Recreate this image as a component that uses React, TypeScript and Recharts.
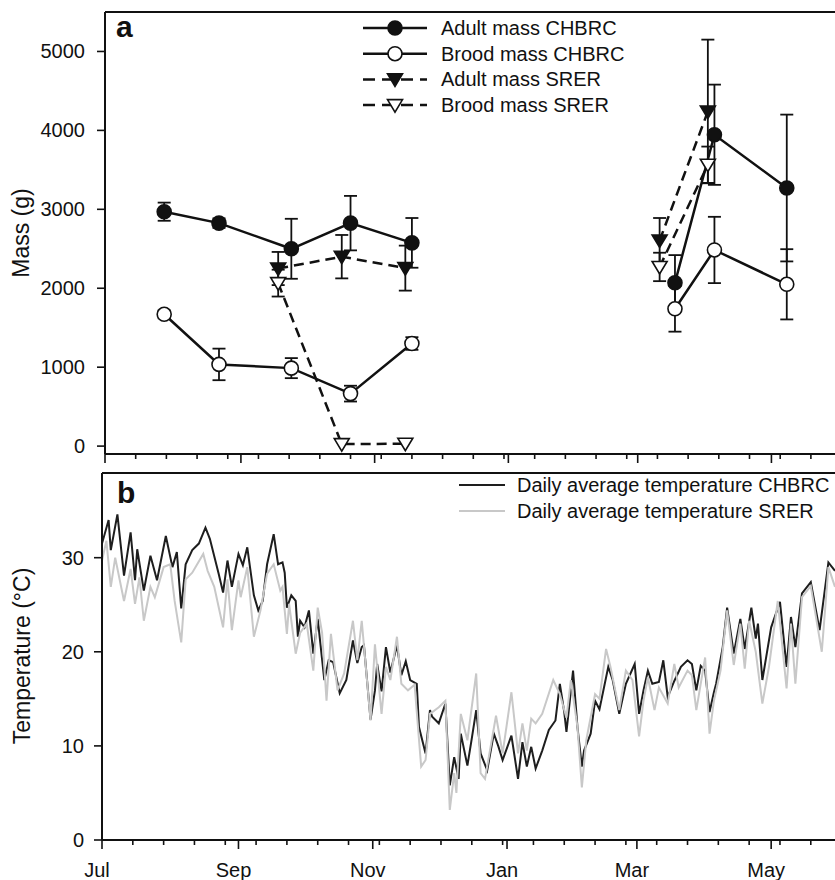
import React from 'react';
import { ComposedChart, Line, XAxis, YAxis, ErrorBar, ReferenceLine } from 'recharts';

// panel a: mass sampling dates (days since 1 Jul), means and error
const chbrcDays = [27, 52, 85, 112, 140, 260, 278, 311];
const adultChbrc = [2970, 2825, 2500, 2825, 2575, 2070, 3945, 3270];
const adultChbrcErr = [115, 60, 380, 345, 315, 350, 635, 930];
const broodChbrc = [1670, 1035, 988, 665, 1300, 1740, 2485, 2050];
const broodChbrcErr = [50, 200, 127, 100, 80, 290, 420, 445];
const srerDays = [79, 108, 137, 253, 275];
const adultSrer = [2250, 2400, 2255, 2605, 4240];
const adultSrerErr = [210, 275, 285, 285, 910];
const broodSrer = [2065, 25, 30, 2270, 3565];
const broodSrerErr = [170, 0, 0, 180, 230];
// winter gap: the lines break after these indices
const chbrcBreak = 5;
const srerBreak = 3;

// panel b: daily average temperature
const chbrcTempDays = [0, 3, 4, 7, 10, 13, 15, 16, 19, 22, 25, 29, 32, 34, 36, 38, 41, 44, 47, 49, 53, 55, 57, 59, 62, 64, 66, 69, 71, 73, 75, 78, 80, 82, 83, 84, 86, 88, 89, 90, 92, 94, 96, 98, 101, 103, 105, 108, 111, 114, 116, 118, 119, 122, 124, 125, 127, 129, 131, 134, 136, 138, 140, 143, 144, 147, 149, 150, 153, 156, 158, 160, 162, 163, 166, 168, 170, 172, 175, 178, 180, 182, 186, 189, 191, 193, 195, 197, 200, 203, 206, 208, 210, 211, 214, 216, 218, 219, 222, 224, 226, 230, 232, 235, 238, 242, 244, 246, 248, 250, 253, 255, 257, 260, 263, 266, 268, 270, 272, 274, 276, 278, 279, 282, 284, 287, 290, 292, 295, 297, 298, 300, 302, 304, 308, 311, 313, 315, 318, 322, 326, 330, 333];
const chbrcTemp = [31.5, 34.0, 30.8, 34.6, 28.1, 32.7, 27.6, 30.9, 26.5, 30.2, 27.6, 32.3, 29.0, 30.6, 24.6, 29.3, 30.8, 31.5, 33.2, 32.0, 28.3, 26.3, 29.7, 26.9, 30.4, 29.2, 31.1, 26.0, 24.4, 25.4, 29.3, 32.5, 29.3, 29.5, 28.4, 24.7, 26.0, 25.4, 21.6, 23.3, 22.6, 24.4, 19.8, 23.5, 17.0, 19.1, 18.9, 15.6, 17.0, 21.2, 18.8, 20.5, 20.7, 12.8, 15.9, 18.7, 15.8, 20.5, 17.8, 20.7, 17.5, 19.0, 17.0, 16.6, 12.0, 9.2, 13.8, 13.1, 12.4, 14.5, 5.8, 8.8, 6.5, 11.3, 7.9, 10.8, 13.8, 9.2, 7.4, 11.3, 10.0, 8.5, 11.1, 6.5, 10.4, 7.8, 9.9, 7.6, 9.5, 11.7, 12.7, 16.6, 13.6, 11.5, 18.0, 12.0, 7.8, 9.5, 11.3, 14.8, 13.9, 18.4, 17.0, 13.4, 16.6, 18.7, 13.4, 15.9, 18.0, 16.6, 16.8, 19.1, 15.2, 16.9, 18.4, 19.1, 18.7, 15.9, 18.5, 18.0, 13.6, 15.7, 16.6, 20.5, 24.7, 19.8, 23.5, 20.3, 24.7, 21.4, 23.0, 17.0, 19.8, 22.6, 25.3, 18.4, 23.7, 20.5, 26.2, 27.4, 22.3, 29.5, 28.6];
const srerTempDays = [0, 2, 4, 6, 10, 13, 15, 17, 19, 22, 24, 28, 31, 33, 36, 38, 41, 46, 48, 51, 55, 57, 59, 62, 63, 66, 69, 72, 75, 78, 81, 82, 84, 85, 88, 90, 93, 96, 98, 100, 102, 104, 107, 110, 114, 116, 118, 122, 124, 127, 129, 131, 134, 136, 139, 142, 145, 147, 149, 153, 156, 158, 160, 161, 163, 166, 170, 172, 174, 179, 182, 186, 189, 191, 193, 195, 197, 200, 205, 208, 211, 213, 216, 218, 220, 224, 226, 229, 231, 235, 238, 241, 244, 246, 248, 251, 253, 257, 260, 262, 266, 268, 270, 274, 276, 278, 281, 284, 287, 290, 292, 294, 297, 300, 303, 307, 311, 313, 315, 318, 322, 327, 330, 333];
const srerTemp = [29.7, 31.8, 26.9, 30.0, 25.4, 28.8, 25.1, 27.9, 23.3, 26.9, 25.8, 29.0, 29.3, 25.4, 21.0, 27.7, 28.4, 30.4, 28.6, 26.9, 22.6, 27.7, 22.3, 27.6, 25.8, 29.0, 21.6, 24.4, 28.3, 29.3, 26.5, 26.9, 21.9, 25.1, 19.8, 22.0, 23.0, 18.0, 24.7, 22.0, 14.8, 21.9, 15.9, 17.7, 23.3, 19.1, 23.3, 12.7, 20.8, 13.4, 18.4, 17.0, 21.6, 16.6, 15.9, 16.5, 7.8, 8.5, 13.4, 14.1, 14.8, 3.2, 7.1, 5.0, 13.4, 10.6, 17.7, 7.1, 6.5, 13.2, 9.2, 15.7, 9.2, 12.4, 9.5, 12.9, 12.4, 13.4, 17.0, 15.5, 13.0, 17.0, 12.0, 5.6, 10.6, 15.5, 15.0, 20.3, 18.4, 13.8, 18.0, 17.0, 11.0, 14.8, 17.3, 13.8, 16.2, 14.5, 18.7, 16.2, 18.0, 17.5, 13.8, 19.4, 11.3, 14.8, 18.0, 24.4, 18.6, 23.0, 18.2, 23.3, 20.0, 14.5, 18.4, 25.4, 16.1, 23.0, 16.6, 25.8, 27.0, 20.0, 29.0, 26.9];

// x axis: month ticks (labelled) and fortnightly minor ticks
const monthTicks = [0, 62, 123, 184, 243, 304];
const monthLabels = ['Jul', 'Sep', 'Nov', 'Jan', 'Mar', 'May'];
const minorTicks = [14, 28, 42, 56, 70, 84, 98, 112, 126, 140, 154, 168, 182, 196, 210, 224, 238, 252, 266, 280, 294, 308, 322];
const massTicks = [0, 1000, 2000, 3000, 4000, 5000];
const tempTicks = [0, 10, 20, 30];

const FONT = '"Liberation Sans", Arial, sans-serif';
const INK = '#111';
const xTicks = [...monthTicks, ...minorTicks].sort((a, b) => a - b);

const seg = (days: number[], vals: number[], errs: number[], from: number, to: number) =>
  days.slice(from, to).map((d, i) => ({ day: d, v: vals[from + i], e: errs[from + i] }));

const series = (days: number[], vals: number[]) => days.map((d, i) => ({ day: d, t: vals[i] }));

function Marker({ kind, cx, cy }: { kind: string; cx: number; cy: number }) {
  const filled = kind === 'fc' || kind === 'ft';
  const fill = filled ? INK : '#fff';
  if (kind === 'fc' || kind === 'oc') {
    return <circle cx={cx} cy={cy} r={7} fill={fill} stroke={INK} strokeWidth={1.6} />;
  }
  return (
    <path
      d={`M${cx - 7.5},${cy - 5.5} L${cx + 7.5},${cy - 5.5} L${cx},${cy + 7} Z`}
      fill={fill}
      stroke={INK}
      strokeWidth={1.6}
    />
  );
}

const dotOf = (kind: string) => (p: any) => {
  if (p.cx == null || p.cy == null) return <g key={p.index} />;
  return (
    <g key={`${kind}-${p.index}`}>
      <Marker kind={kind} cx={p.cx} cy={p.cy} />
    </g>
  );
};

function MonthTick(props: any) {
  const { x, y, payload, showLabel } = props;
  const idx = monthTicks.indexOf(payload.value);
  const major = idx >= 0;
  return (
    <g>
      <line x1={x} x2={x} y1={y} y2={y + (major ? 9 : 5)} stroke={INK} strokeWidth={1.6} />
      {major && showLabel && (
        <text x={x - 5} y={y + 37} textAnchor="middle" fontSize={20} fontFamily={FONT} fill={INK}>
          {monthLabels[idx]}
        </text>
      )}
    </g>
  );
}

function ValueTick(props: any) {
  const { x, y, payload, gap } = props;
  return (
    <g>
      <line x1={x - 8} x2={x} y1={y} y2={y} stroke={INK} strokeWidth={1.6} />
      <text x={x - gap} y={y} dy="0.35em" textAnchor="end" fontSize={20} fontFamily={FONT} fill={INK}>
        {payload.value}
      </text>
    </g>
  );
}

function MassPanel() {
  const aC1 = seg(chbrcDays, adultChbrc, adultChbrcErr, 0, chbrcBreak);
  const aC2 = seg(chbrcDays, adultChbrc, adultChbrcErr, chbrcBreak, chbrcDays.length);
  const bC1 = seg(chbrcDays, broodChbrc, broodChbrcErr, 0, chbrcBreak);
  const bC2 = seg(chbrcDays, broodChbrc, broodChbrcErr, chbrcBreak, chbrcDays.length);
  const aS1 = seg(srerDays, adultSrer, adultSrerErr, 0, srerBreak);
  const aS2 = seg(srerDays, adultSrer, adultSrerErr, srerBreak, srerDays.length);
  const bS1 = seg(srerDays, broodSrer, broodSrerErr, 0, srerBreak);
  const bS2 = seg(srerDays, broodSrer, broodSrerErr, srerBreak, srerDays.length);

  const lineFor = (data: any[], kind: string, dashed: boolean, key: string) => (
    <Line
      key={key}
      data={data}
      dataKey="v"
      type="linear"
      stroke={INK}
      strokeWidth={2.5}
      strokeDasharray={dashed ? '10 6' : undefined}
      dot={dotOf(kind)}
      activeDot={false}
      isAnimationActive={false}
    >
      <ErrorBar dataKey="e" width={6.5} stroke={INK} strokeWidth={1.8} direction="y" />
    </Line>
  );

  return (
    <ComposedChart width={835} height={470} margin={{ top: 12, right: 0, left: 0, bottom: 0 }}>
      <XAxis
        type="number"
        dataKey="day"
        domain={[0, 333]}
        ticks={xTicks}
        interval={0}
        allowDataOverflow
        height={16}
        tickSize={0}
        tickMargin={0}
        tickLine={false}
        tick={<MonthTick showLabel={false} />}
        axisLine={{ stroke: INK, strokeWidth: 2 }}
      />
      <YAxis
        type="number"
        domain={[-100, 5500]}
        ticks={massTicks}
        interval={0}
        allowDataOverflow
        width={105}
        tickSize={0}
        tickMargin={0}
        tickLine={false}
        tick={<ValueTick gap={20} />}
        axisLine={{ stroke: INK, strokeWidth: 2 }}
      />
      <ReferenceLine y={5500} stroke={INK} strokeWidth={2} ifOverflow="visible" />
      {lineFor(aS1, 'ft', true, 'as1')}
      {lineFor(aS2, 'ft', true, 'as2')}
      {lineFor(bS1, 'ot', true, 'bs1')}
      {lineFor(bS2, 'ot', true, 'bs2')}
      {lineFor(aC1, 'fc', false, 'ac1')}
      {lineFor(aC2, 'fc', false, 'ac2')}
      {lineFor(bC1, 'oc', false, 'bc1')}
      {lineFor(bC2, 'oc', false, 'bc2')}
    </ComposedChart>
  );
}

function TempPanel() {
  return (
    <ComposedChart width={835} height={419} margin={{ top: 12, right: 0, left: 0, bottom: 0 }}>
      <XAxis
        type="number"
        dataKey="day"
        domain={[0, 333]}
        ticks={xTicks}
        interval={0}
        allowDataOverflow
        height={40}
        tickSize={0}
        tickMargin={0}
        tickLine={false}
        tick={<MonthTick showLabel />}
        axisLine={{ stroke: INK, strokeWidth: 2 }}
      />
      <YAxis
        type="number"
        domain={[0, 39]}
        ticks={tempTicks}
        interval={0}
        allowDataOverflow
        width={102}
        tickSize={0}
        tickMargin={0}
        tickLine={false}
        tick={<ValueTick gap={18} />}
        axisLine={{ stroke: INK, strokeWidth: 2 }}
      />
      <ReferenceLine y={39} stroke={INK} strokeWidth={2} ifOverflow="visible" />
      <Line
        data={series(chbrcTempDays, chbrcTemp)}
        dataKey="t"
        type="linear"
        stroke="#1e1e1e"
        strokeWidth={2}
        dot={false}
        activeDot={false}
        isAnimationActive={false}
      />
      <Line
        data={series(srerTempDays, srerTemp)}
        dataKey="t"
        type="linear"
        stroke="#c8c8c8"
        strokeWidth={2}
        dot={false}
        activeDot={false}
        isAnimationActive={false}
      />
    </ComposedChart>
  );
}

const massLegend = [
  { label: 'Adult mass CHBRC', kind: 'fc', dashed: false },
  { label: 'Brood mass CHBRC', kind: 'oc', dashed: false },
  { label: 'Adult mass SRER', kind: 'ft', dashed: true },
  { label: 'Brood mass SRER', kind: 'ot', dashed: true },
];
const tempLegend = [
  { label: 'Daily average temperature CHBRC', color: '#1e1e1e' },
  { label: 'Daily average temperature SRER', color: '#c8c8c8' },
];

function Overlay() {
  const txt = { fontFamily: FONT, fill: INK } as const;
  return (
    <svg width={835} height={880} style={{ position: 'absolute', left: 0, top: 0, pointerEvents: 'none' }}>
      <text x={116} y={37} fontSize={30} fontWeight="bold" {...txt}>a</text>
      <text x={117} y={503} fontSize={30} fontWeight="bold" {...txt}>b</text>
      <text x={21} y={233} dy="0.35em" fontSize={23} textAnchor="middle" transform="rotate(-90 21 233)" {...txt}>
        Mass (g)
      </text>
      <text x={22} y={656} dy="0.35em" fontSize={23} textAnchor="middle" transform="rotate(-90 22 656)" {...txt}>
        Temperature (°C)
      </text>
      {massLegend.map((item, i) => {
        const y = 28 + i * 25.7;
        return (
          <g key={item.label}>
            <line x1={363} x2={427} y1={y} y2={y} stroke={INK} strokeWidth={2.5} strokeDasharray={item.dashed ? '12 7' : undefined} />
            <Marker kind={item.kind} cx={395} cy={y} />
            <text x={441} y={y} dy="0.35em" fontSize={20} {...txt}>{item.label}</text>
          </g>
        );
      })}
      {tempLegend.map((item, i) => {
        const y = 485 + i * 26;
        return (
          <g key={item.label}>
            <line x1={459} x2={505} y1={y} y2={y} stroke={item.color} strokeWidth={2} />
            <text x={517} y={y} dy="0.35em" fontSize={20} {...txt}>{item.label}</text>
          </g>
        );
      })}
    </svg>
  );
}

export default function App() {
  return (
    <div style={{ position: 'absolute', left: 0, top: 0, width: 835, height: 880, background: '#fff', overflow: 'hidden' }}>
      <div style={{ position: 'absolute', left: 0, top: 0 }}>
        <MassPanel />
      </div>
      <div style={{ position: 'absolute', left: 0, top: 461 }}>
        <TempPanel />
      </div>
      <Overlay />
    </div>
  );
}
